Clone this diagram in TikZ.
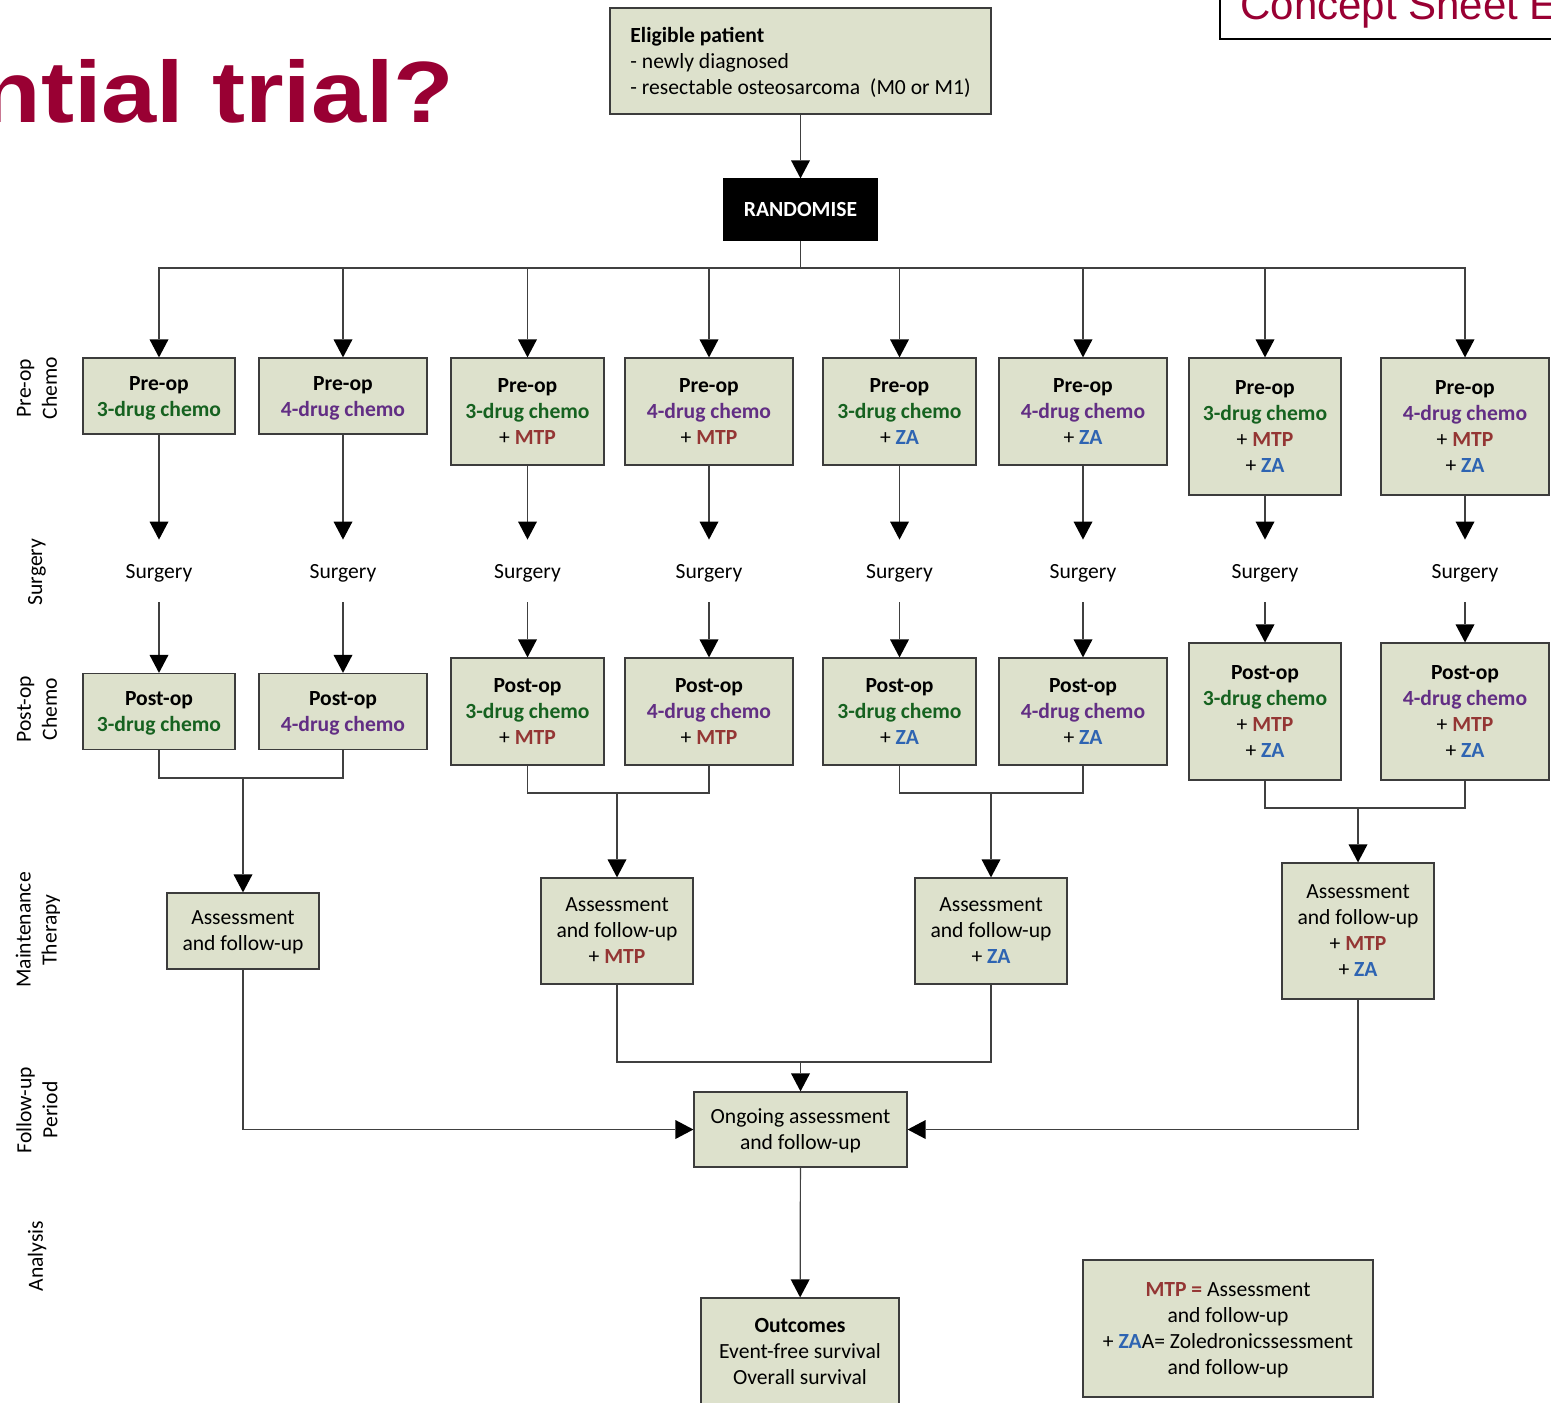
\documentclass[tikz,border=0pt]{standalone}
\usepackage{fontspec}
\setmainfont{Carlito}
\newfontfamily\arialfont{Liberation Sans}
\usetikzlibrary{arrows.meta}

\definecolor{boxfill}{RGB}{221,225,204}
\definecolor{boxline}{RGB}{60,60,60}
\definecolor{drugthree}{RGB}{22,98,32}
\definecolor{drugfour}{RGB}{98,46,132}
\definecolor{mtpred}{RGB}{148,54,52}
\definecolor{zablue}{RGB}{46,100,178}
\definecolor{titlered}{RGB}{153,0,51}

\newcommand{\drugA}{\textcolor{drugthree}{\textbf{3-drug chemo}}}
\newcommand{\drugB}{\textcolor{drugfour}{\textbf{4-drug chemo}}}
\newcommand{\addMTP}{+ \textcolor{mtpred}{\textbf{MTP}}}
\newcommand{\addZA}{+ \textcolor{zablue}{\textbf{ZA}}}

\tikzset{
    box/.style={draw=boxline, fill=boxfill, line width=0.6pt, align=center,
        inner sep=0pt, text depth=0pt, font=\fontsize{10.8}{13}\selectfont},
    side/.style={rotate=90, align=center, font=\fontsize{10.8}{13}\selectfont},
    srg/.style={minimum height=31pt, inner sep=0pt, text depth=0pt,
        font=\fontsize{10.8}{13}\selectfont},
    link/.style={line width=0.6pt, draw=black!75},
    arr/.style={link, -{Triangle[width=9.5pt,length=9pt,fill=black,line width=0pt]}}
}

\begin{document}
\begin{tikzpicture}[x=0.5pt, y=-0.5pt]
        \useasboundingbox (0,0) rectangle (1551,1402);
        % heading and sheet tag
        \node[anchor=base east, text=titlered, inner sep=0pt, xscale=1.14,
            font=\arialfont\bfseries\fontsize{43.5}{46}\selectfont] (title) at (455,123) {ntial trial?};
        \draw[line width=1.4pt] (1220,-30) rectangle (1620,39);
        \node[anchor=base west, text=titlered, inner sep=0pt,
            font=\arialfont\fontsize{21}{24}\selectfont] (tag) at (1240,20) {Concept Sheet E};

        % phase labels
        \node[side] (lpre) at (37,388) {Pre-op\\Chemo};
        \node[side] (lsrg) at (37,572) {Surgery};
        \node[side] (lpost) at (37,709) {Post-op\\Chemo};
        \node[side] (lmnt) at (38,930) {Maintenance\\Therapy};
        \node[side] (lfol) at (37,1110) {Follow-up\\Period};
        \node[side] (lana) at (37,1256) {Analysis};

        % entry
        \node[box, align=left, minimum width=190.5pt, minimum height=53pt] (elig) at (800.5,61)
            {\textbf{Eligible patient}\\- newly diagnosed\\- resectable osteosarcoma~ (M0 or M1)};
        \node[box, fill=black, draw=black, text=white, font=\fontsize{10.8}{13}\selectfont\bfseries,
            minimum width=76.5pt, minimum height=30.5pt] (rand) at (800.5,209.5) {RANDOMISE};
        \coordinate (bus) at (800.5,268);
        \draw[arr] (elig) -- (rand);
        \draw[link] (rand) -- (bus);

        % eight arms
        \foreach \n/\x/\w/\h/\txt in {
            1/159/76/38/{\drugA},
            2/343/84/38/{\drugB},
            3/527.5/76.5/53.5/{\drugA\\\addMTP},
            4/709/84/53.5/{\drugB\\\addMTP},
            5/899.5/76.5/53.5/{\drugA\\\addZA},
            6/1083/84/53.5/{\drugB\\\addZA},
            7/1265/76/68.5/{\drugA\\\addMTP\\\addZA},
            8/1465/84/68.5/{\drugB\\\addMTP\\\addZA}} {
            \node[box, minimum width=\w pt, minimum height=\h pt] (pre\n) at (\x,358+\h)
                {\textbf{Pre-op}\\\txt};
            \node[srg] (s\n) at (\x,571) {Surgery};
            \node[box, minimum width=\w pt, minimum height=\h pt] (post\n) at (\x,711.5)
                {\textbf{Post-op}\\\txt};
            \draw[arr] (bus) -| (pre\n.north);
            \draw[arr] (pre\n) -- (s\n);
            \draw[arr] (s\n) -- (post\n);
        }

        % maintenance
        \node[box, minimum width=76pt, minimum height=38pt] (asm1) at (243,931)
            {Assessment\\and follow-up};
        \node[box, minimum width=76pt, minimum height=53pt] (asm2) at (617,931)
            {Assessment\\and follow-up\\\addMTP};
        \node[box, minimum width=76pt, minimum height=53pt] (asm3) at (991,931)
            {Assessment\\and follow-up\\\addZA};
        \node[box, minimum width=76pt, minimum height=68pt] (asm4) at (1358,931)
            {Assessment\\and follow-up\\\addMTP\\\addZA};

        \coordinate (j1) at (243,778);
        \coordinate (j2) at (617,793);
        \coordinate (j3) at (991,793);
        \coordinate (j4) at (1358,808);
        \draw[link] (post1.south) |- (j1) -| (post2.south);
        \draw[link] (post3.south) |- (j2) -| (post4.south);
        \draw[link] (post5.south) |- (j3) -| (post6.south);
        \draw[link] (post7.south) |- (j4) -| (post8.south);
        \foreach \k in {1,...,4} \draw[arr] (j\k) -- (asm\k);

        % follow-up and analysis
        \node[box, minimum width=106.5pt, minimum height=37.5pt] (ong) at (800.5,1129.5)
            {Ongoing assessment\\and follow-up};
        \node[box, minimum width=99pt, minimum height=53pt] (outc) at (800,1351)
            {\textbf{Outcomes}\\Event-free survival\\Overall survival};
        \coordinate (jm) at (800.5,1062);
        \draw[link] (asm2.south) |- (jm) -| (asm3.south);
        \draw[arr] (jm) -- (ong);
        \draw[arr] (asm1.south) |- (ong.west);
        \draw[arr] (asm4.south) |- (ong.east);
        \draw[arr] (ong) -- (outc);

        % key
        \node[box, minimum width=145pt, minimum height=68.5pt] (key) at (1228,1328.5)
            {\textcolor{mtpred}{\textbf{MTP =}} Assessment\\and follow-up\\
             + \textcolor{zablue}{\textbf{ZA}}A= Zoledronicssessment\\and follow-up};
    \end{tikzpicture}
\end{document}
